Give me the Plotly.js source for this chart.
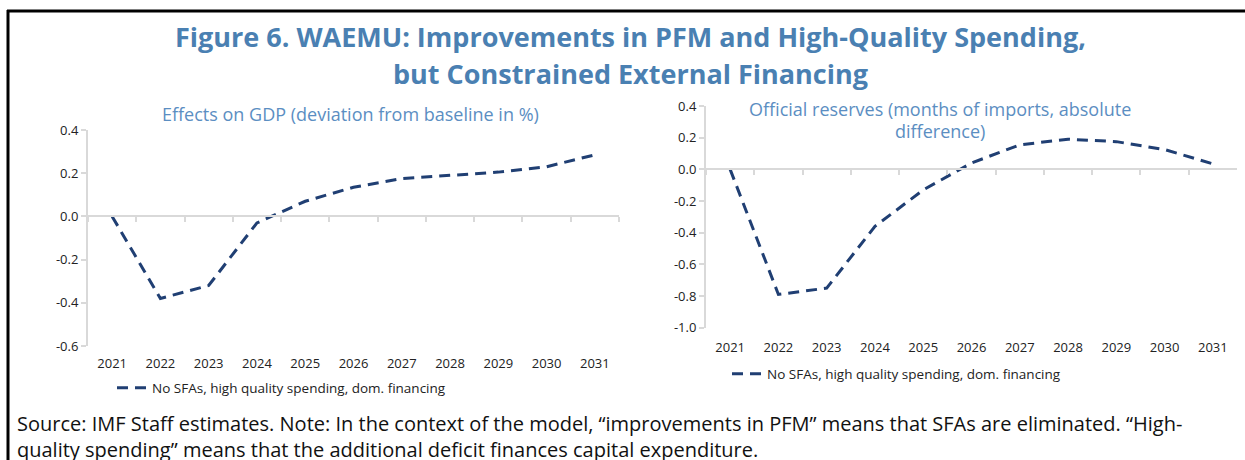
<!DOCTYPE html>
<html>
<head>
<meta charset="utf-8">
<script src="https://cdn.plot.ly/plotly-3.0.1.min.js"></script>
<style>html,body{margin:0;padding:0;background:#fff;}#chart{width:1245px;height:460px;}</style>
</head>
<body>
<div id="chart"></div>
<script>
// ---- data ----
const years = ['2021','2022','2023','2024','2025','2026','2027','2028','2029','2030','2031'];
const gdpEffect = [0, -0.38, -0.32, -0.03, 0.07, 0.135, 0.175, 0.19, 0.205, 0.23, 0.285];
const reservesEffect = [0, -0.79, -0.75, -0.36, -0.13, 0.04, 0.155, 0.19, 0.175, 0.125, 0.035];
const seriesName = 'No SFAs, high quality spending, dom. financing';
const gdpTickVals = [0.4, 0.2, 0.0, -0.2, -0.4, -0.6];
const gdpTickText = ['0.4', '0.2', '0.0', '-0.2', '-0.4', '-0.6'];
const resTickVals = [0.4, 0.2, 0.0, -0.2, -0.4, -0.6, -0.8, -1.0];
const resTickText = ['0.4', '0.2', '0.0', '-0.2', '-0.4', '-0.6', '-0.8', '-1.0'];
const titleLine1 = 'Figure 6. WAEMU: Improvements in PFM and High-Quality Spending,';
const titleLine2 = 'but Constrained External Financing';
const leftTitle = 'Effects on GDP (deviation from baseline in %)';
const rightTitleLine1 = 'Official reserves (months of imports, absolute';
const rightTitleLine2 = 'difference)';
const noteLine1 = 'Source: IMF Staff estimates. Note: In the context of the model, \u201cimprovements in PFM\u201d means that SFAs are eliminated. \u201cHigh-';
const noteLine2 = 'quality spending\u201d means that the additional deficit finances capital expenditure.';

// ---- layout geometry ----
const W = 1245, H = 460;
const FONT = 'Open Sans, sans-serif';
const lineColor = '#203f73';
const axisGray = '#d9d9d9';
const px = v => v / W;
const py = v => 1 - v / H;

const left = { xd: [px(88), px(619)], yd: [py(346), py(130)], yr: [-0.6, 0.4] };
const right = { xd: [px(706), px(1237)], yd: [py(327.7), py(106)], yr: [-1.0, 0.4] };

function zeroPos(p) {
  return p.yd[0] + (0 - p.yr[0]) / (p.yr[1] - p.yr[0]) * (p.yd[1] - p.yd[0]);
}

// bottom axis: carries the year labels only
function labelAxis(p, yId, standoff) {
  return {
    type: 'category', domain: p.xd, anchor: yId,
    range: [-0.5, years.length - 0.5], categoryorder: 'array', categoryarray: years,
    showline: false, ticks: '', ticklabelstandoff: standoff,
    tickfont: { family: FONT, size: 13, color: '#222' },
    showgrid: false, zeroline: false, fixedrange: true
  };
}
// axis line drawn through zero with boundary ticks, no labels
function zeroAxis(p, overlay) {
  return {
    type: 'category', domain: p.xd, anchor: 'free', position: zeroPos(p), overlaying: overlay,
    range: [-0.5, years.length - 0.5], categoryorder: 'array', categoryarray: years,
    showline: true, linecolor: axisGray, linewidth: 2,
    ticks: 'outside', ticklen: 5, tickcolor: axisGray, tickwidth: 2, tickson: 'boundaries',
    showticklabels: false, showgrid: false, zeroline: false, fixedrange: true
  };
}
function yAxis(p, vals, text, xId) {
  return {
    domain: p.yd, range: p.yr, anchor: xId,
    showline: true, linecolor: axisGray, linewidth: 2,
    ticks: 'outside', ticklen: 5, tickcolor: axisGray, tickwidth: 2,
    tickmode: 'array', tickvals: vals, ticktext: text,
    tickfont: { family: FONT, size: 13, color: '#222' },
    showgrid: false, zeroline: false, fixedrange: true
  };
}

const lineStyle = { color: lineColor, width: 3, dash: '11px,7px' };

const traces = [
  // helper (invisible) traces that give the zero-line axes their categories
  { x: years, y: gdpEffect, type: 'scatter', mode: 'lines', opacity: 0, showlegend: false,
    hoverinfo: 'skip', line: { width: 0 }, xaxis: 'x3', yaxis: 'y' },
  { x: years, y: reservesEffect, type: 'scatter', mode: 'lines', opacity: 0, showlegend: false,
    hoverinfo: 'skip', line: { width: 0 }, xaxis: 'x4', yaxis: 'y2' },
  { x: years, y: gdpEffect, name: seriesName, type: 'scatter', mode: 'lines',
    line: lineStyle, xaxis: 'x', yaxis: 'y', legend: 'legend', cliponaxis: false },
  { x: years, y: reservesEffect, name: seriesName, type: 'scatter', mode: 'lines',
    line: lineStyle, xaxis: 'x2', yaxis: 'y2', legend: 'legend2', cliponaxis: false }
];

const legendStyle = {
  orientation: 'h', xanchor: 'left', yanchor: 'middle', bgcolor: 'rgba(0,0,0,0)',
  font: { family: FONT, size: 13.5, color: '#222' }, itemwidth: 30
};

const layout = {
  width: W, height: H,
  margin: { l: 0, r: 0, t: 0, b: 0 },
  paper_bgcolor: '#fff', plot_bgcolor: 'rgba(0,0,0,0)',
  showlegend: true,
  xaxis: labelAxis(left, 'y', 8), yaxis: yAxis(left, gdpTickVals, gdpTickText, 'x'),
  xaxis2: labelAxis(right, 'y2', 10), yaxis2: yAxis(right, resTickVals, resTickText, 'x2'),
  xaxis3: zeroAxis(left, 'x'),
  xaxis4: zeroAxis(right, 'x2'),
  legend: Object.assign({ x: px(112), y: py(388) }, legendStyle),
  legend2: Object.assign({ x: px(727), y: py(374) }, legendStyle),
  annotations: [
    { text: '<b>' + titleLine1 + '</b>', xref: 'paper', yref: 'paper', x: px(630), y: py(37),
      xanchor: 'center', yanchor: 'middle', showarrow: false,
      font: { family: FONT, size: 27, color: '#4a80b2' } },
    { text: '<b>' + titleLine2 + '</b>', xref: 'paper', yref: 'paper', x: px(630), y: py(74),
      xanchor: 'center', yanchor: 'middle', showarrow: false,
      font: { family: FONT, size: 27, color: '#4a80b2' } },
    { text: leftTitle, xref: 'paper', yref: 'paper', x: px(350), y: py(114),
      xanchor: 'center', yanchor: 'middle', showarrow: false,
      font: { family: FONT, size: 18, color: '#5b8ec2' } },
    { text: rightTitleLine1, xref: 'paper', yref: 'paper', x: px(940), y: py(109),
      xanchor: 'center', yanchor: 'middle', showarrow: false,
      font: { family: FONT, size: 18, color: '#5b8ec2' } },
    { text: rightTitleLine2, xref: 'paper', yref: 'paper', x: px(940), y: py(131),
      xanchor: 'center', yanchor: 'middle', showarrow: false,
      font: { family: FONT, size: 18, color: '#5b8ec2' } },
    { text: noteLine1, xref: 'paper', yref: 'paper', x: px(15), y: py(423),
      xanchor: 'left', yanchor: 'middle', showarrow: false,
      font: { family: FONT, size: 20, color: '#111' } },
    { text: noteLine2, xref: 'paper', yref: 'paper', x: px(15), y: py(449),
      xanchor: 'left', yanchor: 'middle', showarrow: false,
      font: { family: FONT, size: 20, color: '#111' } }
  ],
  shapes: [
    { type: 'line', xref: 'paper', yref: 'paper', x0: px(7), x1: 1, y0: py(11), y1: py(11),
      line: { color: '#000', width: 3 } },
    { type: 'line', xref: 'paper', yref: 'paper', x0: px(8), x1: px(8), y0: py(10), y1: 0,
      line: { color: '#000', width: 3 } }
  ]
};

Plotly.newPlot('chart', traces, layout, { displayModeBar: false, staticPlot: true });
</script>
</body>
</html>
